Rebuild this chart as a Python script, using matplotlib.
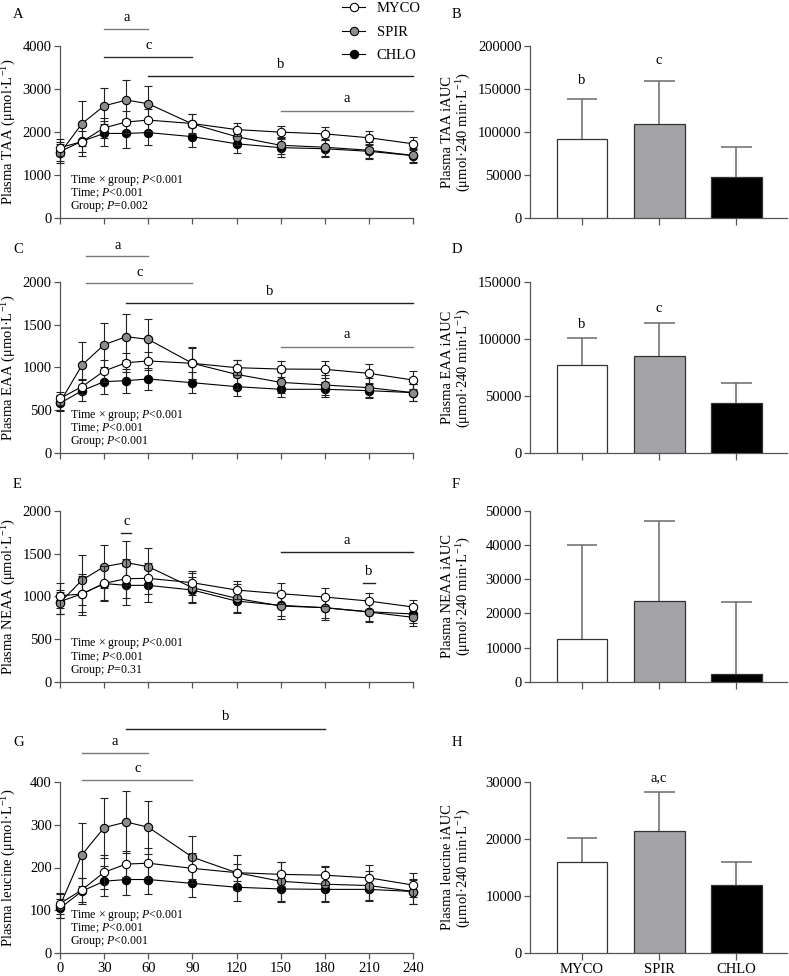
import matplotlib
matplotlib.use('Agg')
import matplotlib.pyplot as plt
from matplotlib.lines import Line2D

plt.rcParams['font.family'] = ['Liberation Serif', 'DejaVu Serif']
plt.rcParams['mathtext.fontset'] = 'custom'
plt.rcParams['mathtext.rm'] = 'Liberation Serif'
plt.rcParams['mathtext.it'] = 'Liberation Serif:italic'
plt.rcParams['mathtext.bf'] = 'Liberation Serif:bold'

# ---------------- data ----------------
time = [0, 15, 30, 45, 60, 90, 120, 150, 180, 210, 240]
groups = ['MYCO', 'SPIR', 'CHLO']

taa_myco = [1640, 1780, 2100, 2235, 2280, 2200, 2060, 2000, 1960, 1870, 1730]
taa_spir = [1510, 2200, 2610, 2745, 2660, 2190, 1895, 1695, 1650, 1580, 1460]
taa_chlo = [1550, 1790, 1970, 1970, 1990, 1895, 1730, 1640, 1615, 1555, 1455]
taa_myco_sd = [200, 250, 230, 250, 250, 220, 150, 150, 150, 160, 150]
taa_spir_sd = [220, 520, 410, 470, 400, 230, 200, 200, 200, 180, 150]
taa_chlo_sd = [220, 350, 300, 340, 290, 230, 210, 220, 200, 180, 170]

eaa_myco = [640, 777, 959, 1056, 1076, 1049, 998, 982, 979, 932, 854]
eaa_spir = [594, 1029, 1266, 1359, 1328, 1049, 920, 827, 796, 765, 707]
eaa_chlo = [583, 730, 835, 847, 866, 823, 777, 746, 746, 730, 707]
eaa_myco_sd = [80, 90, 130, 110, 110, 185, 90, 90, 100, 110, 100]
eaa_spir_sd = [90, 265, 256, 270, 233, 180, 170, 120, 120, 110, 100]
eaa_chlo_sd = [90, 125, 140, 140, 130, 120, 110, 90, 90, 80, 100]

neaa_myco = [1008, 1027, 1152, 1207, 1211, 1160, 1074, 1031, 992, 945, 875]
neaa_spir = [926, 1191, 1348, 1395, 1348, 1102, 977, 887, 867, 816, 754]
neaa_chlo = [938, 1030, 1150, 1129, 1129, 1074, 945, 895, 867, 820, 793]
neaa_myco_sd = [150, 240, 200, 230, 180, 140, 100, 120, 100, 90, 80]
neaa_spir_sd = [130, 290, 255, 257, 215, 170, 170, 150, 140, 120, 100]
neaa_chlo_sd = [140, 210, 200, 230, 190, 150, 130, 130, 120, 110, 100]

leu_myco = [116, 148, 189, 208, 210, 198, 188, 184, 182, 176, 159]
leu_spir = [111, 230, 293, 306, 294, 224, 188, 168, 161, 158, 144]
leu_chlo = [105, 145, 168, 172, 172, 163, 154, 150, 149, 149, 144]
leu_myco_sd = [25, 28, 40, 30, 35, 35, 20, 28, 22, 30, 28]
leu_spir_sd = [28, 73, 70, 72, 62, 50, 40, 45, 40, 35, 30]
leu_chlo_sd = [22, 30, 35, 36, 34, 32, 33, 30, 30, 25, 28]

taa_iauc = [92000, 110000, 47800]
taa_iauc_sd = [45900, 49200, 34500]
eaa_iauc = [77000, 85200, 44400]
eaa_iauc_sd = [23400, 28600, 16900]
neaa_iauc = [12600, 23730, 2340]
neaa_iauc_sd = [27440, 23340, 21000]
leu_iauc = [15960, 21430, 11940]
leu_iauc_sd = [4140, 6760, 4080]

# ---------------- styling ----------------
W, H = 789, 976
fig = plt.figure(figsize=(W / 100, H / 100), dpi=100)

GRAY_MK = '#8c8c8c'
GRAY_BAR = '#a3a3a8'
GRAY_LN = '#7a7a7a'
SPINE = '#555555'
face = {'MYCO': 'white', 'SPIR': GRAY_MK, 'CHLO': 'black'}
zord = {'MYCO': 6, 'SPIR': 5, 'CHLO': 4}


def rect(x0, x1, ytop, ybot):
    return [x0 / W, 1 - ybot / H, (x1 - x0) / W, (ybot - ytop) / H]


rows = [(46, 218.3), (281.7, 453.3), (511, 681.7), (781.7, 953.3)]
LX0, LX1 = 60, 413
RX0, RX1 = 530, 787


def style_axes(ax):
    for s in ['top', 'right']:
        ax.spines[s].set_visible(False)
    for s in ['left', 'bottom']:
        ax.spines[s].set_color(SPINE)
        ax.spines[s].set_linewidth(0.9)
    ax.tick_params(direction='out', length=4, width=0.9, color=SPINE,
                   labelsize=10.5, pad=2)


def line_panel(ax, means, sds, ylim, yticks, ylabel, show_x, sigs, stats):
    style_axes(ax)
    for g, m, sd in zip(groups, means, sds):
        cont = ax.errorbar(time, m, yerr=sd, fmt='-o', color='black', lw=0.8,
                           mfc=face[g], mec='black', mew=0.8, ms=6,
                           ecolor='#222222', elinewidth=0.8, capsize=3,
                           capthick=0.8, zorder=zord[g])
        for ch in cont.get_children():
            ch.set_clip_on(False)
    ax.set_xlim(0, 240)
    ax.set_ylim(*ylim)
    ax.set_yticks(yticks)
    ax.set_xticks(range(0, 241, 30))
    if not show_x:
        ax.set_xticklabels([])
    ax.set_ylabel(ylabel, fontsize=10.5)
    ax.yaxis.set_label_coords(-0.118, 0.5)
    for x0, x1, yl, yt, col, txt in sigs:
        ax.plot([x0, x1], [yl, yl], color=col, lw=1.0, clip_on=False)
        ax.text((x0 + x1) / 2, yt, txt, ha='center', va='center',
                fontsize=10.5)
    for i, s in enumerate(stats):
        ax.text(0.028, [0.222, 0.145, 0.066][i], s, transform=ax.transAxes,
                fontsize=8.6, va='center', ha='left')


def bar_panel(ax, vals, sds, ylim, yticks, ylabel, show_x, letters):
    style_axes(ax)
    x = [0, 1, 2]
    tops = [v + s for v, s in zip(vals, sds)]
    ax.vlines(x, vals, tops, color='#6a6a6a', lw=1.1, zorder=2)
    ax.hlines(tops, [xi - 0.2 for xi in x], [xi + 0.2 for xi in x],
              color='#6a6a6a', lw=1.1, zorder=2)
    ax.bar(x, vals, width=0.66, color=['white', GRAY_BAR, 'black'],
           edgecolor='#333333', linewidth=0.9, zorder=3)
    ax.set_xlim(-0.675, 2.658)
    ax.set_ylim(*ylim)
    ax.set_yticks(yticks)
    ax.set_xticks(x)
    ax.tick_params(axis='x', length=5)
    if show_x:
        ax.set_xticklabels(groups, fontsize=10.5)
    else:
        ax.set_xticklabels([])
    ax.set_ylabel(ylabel, fontsize=10.5, linespacing=1.1)
    ax.yaxis.set_label_coords(-0.22, 0.5)
    for xi, y, txt in letters:
        ax.text(xi, y, txt, ha='center', va='center', fontsize=10.5)


unit = '(μmol·L$^{-1}$)'
stats_a = ['Time × group; $P$<0.001', 'Time; $P$<0.001', 'Group; $P$=0.002']
stats_c = ['Time × group; $P$<0.001', 'Time; $P$<0.001', 'Group; $P$<0.001']
stats_e = ['Time × group; $P$<0.001', 'Time; $P$<0.001', 'Group; $P$=0.31']
stats_g = ['Time × group; $P$<0.001', 'Time; $P$<0.001', 'Group; $P$<0.001']

axA = fig.add_axes(rect(LX0, LX1, *rows[0]))
line_panel(axA, [taa_myco, taa_spir, taa_chlo],
           [taa_myco_sd, taa_spir_sd, taa_chlo_sd], (0, 4000),
           range(0, 4001, 1000), 'Plasma TAA ' + unit, False,
           [(30, 60, 4387, 4665, GRAY_LN, 'a'),
            (30, 90, 3737, 4023, '#333333', 'c'),
            (60, 240, 3304, 3560, '#222222', 'b'),
            (150, 240, 2500, 2775, GRAY_LN, 'a')], stats_a)

axC = fig.add_axes(rect(LX0, LX1, *rows[1]))
line_panel(axC, [eaa_myco, eaa_spir, eaa_chlo],
           [eaa_myco_sd, eaa_spir_sd, eaa_chlo_sd], (0, 2000),
           range(0, 2001, 500), 'Plasma EAA ' + unit, False,
           [(18, 60, 2299, 2427, GRAY_LN, 'a'),
            (18, 90, 1981, 2105, GRAY_LN, 'c'),
            (45, 240, 1755, 1883, '#222222', 'b'),
            (150, 240, 1243, 1379, GRAY_LN, 'a')], stats_c)

axE = fig.add_axes(rect(LX0, LX1, *rows[2]))
line_panel(axE, [neaa_myco, neaa_spir, neaa_chlo],
           [neaa_myco_sd, neaa_spir_sd, neaa_chlo_sd], (0, 2000),
           range(0, 2001, 500), 'Plasma NEAA ' + unit, False,
           [(41.5, 48.5, 1738, 1875, '#222222', 'c'),
            (150, 240, 1523, 1660, '#222222', 'a'),
            (206, 214, 1152, 1297, '#222222', 'b')], stats_e)

axG = fig.add_axes(rect(LX0, LX1, *rows[3]))
line_panel(axG, [leu_myco, leu_spir, leu_chlo],
           [leu_myco_sd, leu_spir_sd, leu_chlo_sd], (0, 400),
           range(0, 401, 100), 'Plasma leucine ' + unit, True,
           [(45, 180, 524, 553, '#222222', 'b'),
            (15, 60, 466, 493, GRAY_LN, 'a'),
            (15, 90, 404, 431, GRAY_LN, 'c')], stats_g)

iunit = '(μmol·240 min·L$^{-1}$)'
axB = fig.add_axes(rect(RX0, RX1, *rows[0]))
bar_panel(axB, taa_iauc, taa_iauc_sd, (0, 200000), range(0, 200001, 50000),
          'Plasma TAA iAUC\n' + iunit, False,
          [(0, 160000, 'b'), (1, 183700, 'c')])
axD = fig.add_axes(rect(RX0, RX1, *rows[1]))
bar_panel(axD, eaa_iauc, eaa_iauc_sd, (0, 150000), range(0, 150001, 50000),
          'Plasma EAA iAUC\n' + iunit, False,
          [(0, 113000, 'b'), (1, 126700, 'c')])
axF = fig.add_axes(rect(RX0, RX1, *rows[2]))
bar_panel(axF, neaa_iauc, neaa_iauc_sd, (0, 50000), range(0, 50001, 10000),
          'Plasma NEAA iAUC\n' + iunit, False, [])
axH = fig.add_axes(rect(RX0, RX1, *rows[3]))
bar_panel(axH, leu_iauc, leu_iauc_sd, (0, 30000), range(0, 30001, 10000),
          'Plasma leucine iAUC\n' + iunit, True, [(1, 30700, 'a,c')])

# panel letters
for lab, x, y in [('A', 13, 15), ('C', 13, 250), ('E', 13, 485), ('G', 13, 742),
                  ('B', 452, 15), ('D', 452, 250), ('F', 452, 485), ('H', 452, 742)]:
    fig.text(x / W, 1 - y / H, lab, fontsize=10.5, ha='left', va='center')

# legend
handles = [Line2D([], [], color='black', lw=0.8, marker='o', ms=6,
                  mfc=face[g], mec='black', mew=0.8) for g in groups]
fig.legend(handles, groups, loc='upper left',
           bbox_to_anchor=(336 / W, 1 - (-4) / H), frameon=False,
           fontsize=10.5, handlelength=1.6, handletextpad=0.8,
           labelspacing=0.72, borderaxespad=0)

fig.savefig('out.png', dpi=100)
